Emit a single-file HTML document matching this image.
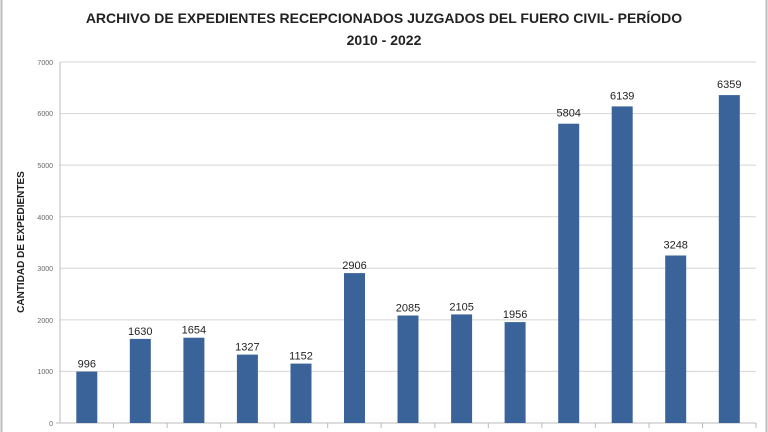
<!DOCTYPE html><html><head><style>body{margin:0;background:#fff}svg{display:block}</style></head><body>
<svg width="768" height="432" xmlns="http://www.w3.org/2000/svg" font-family="Liberation Sans, sans-serif">
<rect x="0" y="0" width="768" height="432" fill="#fff"/>
<line x1="1.5" y1="0" x2="1.5" y2="432" stroke="#bbb" stroke-width="2"/>
<line x1="766.5" y1="0" x2="766.5" y2="432" stroke="#bbb" stroke-width="2"/>
<text x="384" y="23" text-anchor="middle" font-size="14" font-weight="bold" fill="#222">ARCHIVO DE EXPEDIENTES RECEPCIONADOS JUZGADOS DEL FUERO CIVIL- PERÍODO</text>
<text x="384" y="45" text-anchor="middle" font-size="14" font-weight="bold" fill="#222">2010 - 2022</text>
<text transform="translate(24,242) rotate(-90)" text-anchor="middle" font-size="10" font-weight="bold" fill="#222">CANTIDAD DE EXPEDIENTES</text>
<g stroke="#d4d4d4" stroke-width="1">
<line x1="60" y1="62" x2="756" y2="62"/><line x1="60" y1="113.6" x2="756" y2="113.6"/><line x1="60" y1="165.1" x2="756" y2="165.1"/><line x1="60" y1="216.7" x2="756" y2="216.7"/><line x1="60" y1="268.3" x2="756" y2="268.3"/><line x1="60" y1="319.9" x2="756" y2="319.9"/><line x1="60" y1="371.4" x2="756" y2="371.4"/>
</g>
<line x1="60" y1="62" x2="60" y2="423" stroke="#bbb"/>
<line x1="56" y1="423" x2="756" y2="423" stroke="#bbb"/>
<g font-size="7" fill="#666" text-anchor="end">
<text x="53" y="65">7000</text><text x="53" y="116">6000</text><text x="53" y="168">5000</text><text x="53" y="220">4000</text><text x="53" y="271">3000</text><text x="53" y="323">2000</text><text x="53" y="374">1000</text><text x="53" y="426">0</text>
</g>
<g fill="#3a6499">
<rect x="76.3" y="371.6" width="21" height="51.4"/>
<rect x="129.8" y="338.9" width="21" height="84.1"/>
<rect x="183.4" y="337.7" width="21" height="85.3"/>
<rect x="236.9" y="354.6" width="21" height="68.4"/>
<rect x="290.5" y="363.6" width="21" height="59.4"/>
<rect x="344.0" y="273.1" width="21" height="149.9"/>
<rect x="397.5" y="315.5" width="21" height="107.5"/>
<rect x="451.1" y="314.4" width="21" height="108.6"/>
<rect x="504.6" y="322.1" width="21" height="100.9"/>
<rect x="558.2" y="123.7" width="21" height="299.3"/>
<rect x="611.7" y="106.4" width="21" height="316.6"/>
<rect x="665.2" y="255.5" width="21" height="167.5"/>
<rect x="718.8" y="95.1" width="21" height="327.9"/>
</g>
<g font-size="11" fill="#222" text-anchor="middle">
<text x="86.8" y="367.6">996</text>
<text x="140.3" y="334.9">1630</text>
<text x="193.9" y="333.7">1654</text>
<text x="247.4" y="350.6">1327</text>
<text x="301.0" y="359.6">1152</text>
<text x="354.5" y="269.1">2906</text>
<text x="408.0" y="311.5">2085</text>
<text x="461.6" y="310.4">2105</text>
<text x="515.1" y="318.1">1956</text>
<text x="568.7" y="116.7">5804</text>
<text x="622.2" y="99.4">6139</text>
<text x="675.7" y="248.5">3248</text>
<text x="729.3" y="88.1">6359</text>
</g>
<g stroke="#bbb">
<line x1="113.5" y1="423" x2="113.5" y2="428"/><line x1="167.1" y1="423" x2="167.1" y2="428"/><line x1="220.6" y1="423" x2="220.6" y2="428"/><line x1="274.2" y1="423" x2="274.2" y2="428"/><line x1="327.7" y1="423" x2="327.7" y2="428"/><line x1="381.2" y1="423" x2="381.2" y2="428"/><line x1="434.8" y1="423" x2="434.8" y2="428"/><line x1="488.3" y1="423" x2="488.3" y2="428"/><line x1="541.9" y1="423" x2="541.9" y2="428"/><line x1="595.4" y1="423" x2="595.4" y2="428"/><line x1="649.0" y1="423" x2="649.0" y2="428"/><line x1="702.5" y1="423" x2="702.5" y2="428"/><line x1="756" y1="423" x2="756" y2="428"/>
</g>
</svg></body></html>
